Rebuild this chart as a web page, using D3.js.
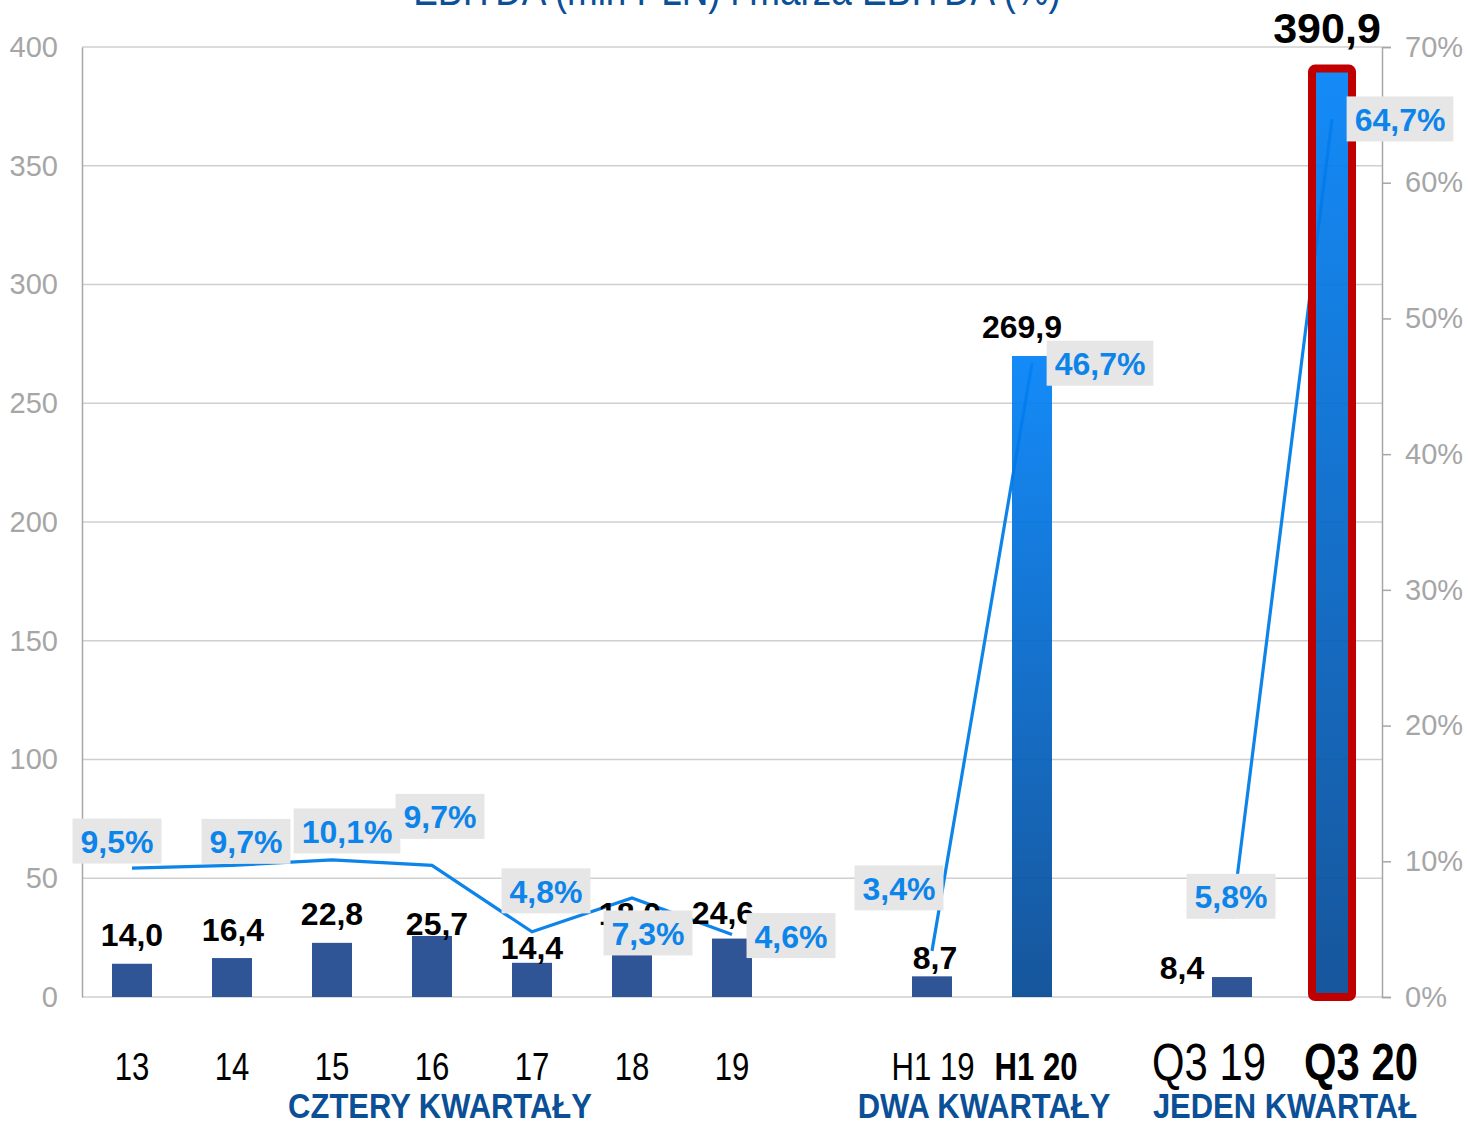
<!DOCTYPE html>
<html>
  <head>
    <meta charset="utf-8">
    <title>EBITDA i marża EBITDA</title>
    <script src="https://cdn.jsdelivr.net/npm/d3@7"></script>
    <style>
      html, body { margin: 0; padding: 0; background: #ffffff; }
      svg { display: block; font-family: "Liberation Sans", Arial, sans-serif; }
    </style>
  </head>
  <body>
    <div id="chart"></div>
    <script>
      // dane
      var categories = ["13", "14", "15", "16", "17", "18", "19", "H1 19", "H1 20", "Q3 19", "Q3 20"];
      var groupOf = [0, 0, 0, 0, 0, 0, 0, 1, 1, 2, 2];
      var groupNames = ["CZTERY KWARTAŁY", "DWA KWARTAŁY", "JEDEN KWARTAŁ"];
      var ebitda = [14.0, 16.4, 22.8, 25.7, 14.4, 18.0, 24.6, 8.7, 269.9, 8.4, 390.9];
      var margin = [9.5, 9.7, 10.1, 9.7, 4.8, 7.3, 4.6, 3.4, 46.7, 5.8, 64.7];
      var leftTicks = [0, 50, 100, 150, 200, 250, 300, 350, 400];
      var rightTicks = [0, 10, 20, 30, 40, 50, 60, 70];
      var highlighted = ["H1 20", "Q3 20"];
      var framed = "Q3 20";
      var title = "EBITDA (mln PLN) i marża EBITDA (%)";

      // przesuniecia etykiet (recznie ustawione jak w oryginale)
      var barLabelNudge = [[0,-18],[1,-17],[0,-18],[5,-1],[0,-4],[-2,-29],[-9,-15],[3,-7],[-10,-18],[-50,2],[-5,-26]];
      var marginNudge = [[-15,-27],[14,-24],[15,-29],[8,-49],[14,-41],[16,35],[59,1],[-33,-63],[68,0],[-1,-22],[68,0]];
      var catNudge = [0,0,0,0,0,0,0,1,4,-23,29];
      var groupNudge = [8, 2, 3];

      var W = 1468, H = 1122;
      var pL = 82, pR = 1382, pT = 47, pB = 997;

      var svg = d3.select("#chart").append("svg")
        .attr("width", W)
        .attr("height", H);

      // domena z przerwami miedzy grupami
      var slots = [];
      categories.forEach(function(c, i) {
        if (i > 0 && groupOf[i] !== groupOf[i - 1]) slots.push("_gap" + i);
        slots.push(c);
      });

      var x = d3.scaleBand().domain(slots).range([pL, pR]).padding(0);
      var y = d3.scaleLinear().domain([0, 400]).range([pB, pT]);
      var y2 = d3.scaleLinear().domain([0, 70]).range([pB, pT]);
      var barW = 40;
      var cx = function(c) { return x(c) + x.bandwidth() / 2; };
      var fmt = function(v) { return d3.format(".1f")(v).replace(".", ","); };

      var defs = svg.append("defs");
      var grad = defs.append("linearGradient")
        .attr("id", "blueGrad")
        .attr("x1", 0).attr("y1", 0).attr("x2", 0).attr("y2", 1);
      grad.append("stop").attr("offset", "0%").attr("stop-color", "#0282f8");
      grad.append("stop").attr("offset", "100%").attr("stop-color", "#054994");

      // siatka
      svg.append("g").selectAll("line")
        .data(leftTicks)
        .enter().append("line")
        .attr("x1", pL).attr("x2", pR)
        .attr("y1", function(d) { return y(d); })
        .attr("y2", function(d) { return y(d); })
        .attr("stroke", "#cfcfcf")
        .attr("stroke-width", 1.5);

      // osie
      var axL = svg.append("g").attr("transform", "translate(" + pL + ",0)")
        .call(d3.axisLeft(y).tickValues(leftTicks).tickSize(0).tickPadding(24));
      axL.select(".domain").attr("stroke", "#a6a6a6").attr("stroke-width", 1.5);
      axL.selectAll("text")
        .attr("fill", "#a6a6a6")
        .style("font-size", "29px")
        .style("font-family", "Liberation Sans, Arial, sans-serif");

      var axR = svg.append("g").attr("transform", "translate(" + pR + ",0)")
        .call(d3.axisRight(y2).tickValues(rightTicks).tickSize(9).tickPadding(14)
          .tickFormat(function(d) { return d + "%"; }));
      axR.select(".domain").attr("stroke", "#a6a6a6").attr("stroke-width", 1.5);
      axR.selectAll(".tick line").attr("stroke", "#a6a6a6").attr("stroke-width", 1.5);
      axR.selectAll("text")
        .attr("fill", "#a6a6a6")
        .style("font-size", "29px")
        .style("font-family", "Liberation Sans, Arial, sans-serif");

      var idx = d3.range(categories.length);

      // zwykle slupki
      svg.append("g").selectAll("rect")
        .data(idx.filter(function(i) { return highlighted.indexOf(categories[i]) < 0; }))
        .enter().append("rect")
        .attr("x", function(i) { return cx(categories[i]) - barW / 2; })
        .attr("y", function(i) { return y(ebitda[i]); })
        .attr("width", barW)
        .attr("height", function(i) { return y(0) - y(ebitda[i]); })
        .attr("fill", "#2f5597");

      // linia marzy, osobne odcinki w grupach
      var line = d3.line()
        .x(function(i) { return cx(categories[i]); })
        .y(function(i) { return y2(margin[i]); });
      groupNames.forEach(function(g, gi) {
        svg.append("path")
          .datum(idx.filter(function(i) { return groupOf[i] === gi; }))
          .attr("d", line)
          .attr("fill", "none")
          .attr("stroke", "#0d84ea")
          .attr("stroke-width", 3.2);
      });

      // wyroznione slupki z gradientem
      svg.append("g").selectAll("rect")
        .data(idx.filter(function(i) { return highlighted.indexOf(categories[i]) >= 0; }))
        .enter().append("rect")
        .attr("x", function(i) { return cx(categories[i]) - barW / 2; })
        .attr("y", function(i) { return y(ebitda[i]); })
        .attr("width", barW)
        .attr("height", function(i) { return y(0) - y(ebitda[i]); })
        .attr("fill", "url(#blueGrad)")
        .attr("fill-opacity", 0.93);

      var fi = categories.indexOf(framed);
      svg.append("rect")
        .attr("x", cx(framed) - barW / 2)
        .attr("y", y(ebitda[fi]))
        .attr("width", barW)
        .attr("height", y(0) - y(ebitda[fi]))
        .attr("rx", 3)
        .attr("fill", "none")
        .attr("stroke", "#c00000")
        .attr("stroke-width", 8);

      // etykiety wartosci EBITDA
      svg.append("g").selectAll("text")
        .data(idx)
        .enter().append("text")
        .attr("x", function(i) { return cx(categories[i]) + barLabelNudge[i][0]; })
        .attr("y", function(i) { return y(ebitda[i]) + barLabelNudge[i][1]; })
        .attr("text-anchor", "middle")
        .attr("font-weight", "bold")
        .attr("font-size", function(i) { return categories[i] === framed ? 43 : 32; })
        .attr("fill", "#000")
        .text(function(i) { return fmt(ebitda[i]); });

      // etykiety marzy w szarych ramkach
      var ml = svg.append("g").selectAll("g")
        .data(idx)
        .enter().append("g")
        .attr("transform", function(i) {
          return "translate(" + (cx(categories[i]) + marginNudge[i][0]) + "," + (y2(margin[i]) + marginNudge[i][1]) + ")";
        });
      ml.append("rect").attr("fill", "#e6e6e6");
      ml.append("text")
        .attr("text-anchor", "middle")
        .attr("y", 12)
        .attr("font-weight", "bold")
        .attr("font-size", 32)
        .attr("fill", "#0d84ea")
        .text(function(i) { return fmt(margin[i]) + "%"; });
      ml.each(function() {
        var g = d3.select(this);
        var w = g.select("text").node().getComputedTextLength() + 16;
        g.select("rect").attr("x", -w / 2).attr("y", -22.5).attr("width", w).attr("height", 45);
      });

      // podpisy kategorii
      svg.append("g").selectAll("text")
        .data(idx)
        .enter().append("text")
        .attr("transform", function(i) {
          return "translate(" + (cx(categories[i]) + catNudge[i]) + ",1080) scale(0.82,1)";
        })
        .attr("text-anchor", "middle")
        .attr("font-size", function(i) { return groupOf[i] === 2 ? 51 : 38; })
        .attr("font-weight", function(i) { return highlighted.indexOf(categories[i]) >= 0 ? "bold" : "normal"; })
        .attr("fill", "#000")
        .text(function(i) { return categories[i]; });

      // nazwy grup
      svg.append("g").selectAll("text")
        .data(groupNames)
        .enter().append("text")
        .attr("transform", function(g, gi) {
          var members = idx.filter(function(i) { return groupOf[i] === gi; });
          var mid = d3.mean(members, function(i) { return cx(categories[i]); });
          return "translate(" + (mid + groupNudge[gi]) + ",1118) scale(0.86,1)";
        })
        .attr("text-anchor", "middle")
        .attr("font-size", 36)
        .attr("font-weight", "bold")
        .attr("fill", "#0b4f96")
        .text(function(g) { return g; });

      // tytul (uciety u gory jak w oryginale)
      svg.append("text")
        .attr("transform", "translate(737,5) scale(0.82,1)")
        .attr("text-anchor", "middle")
        .attr("font-size", 45)
        .attr("fill", "#0b4f96")
        .text(title);
    </script>
  </body>
</html>
